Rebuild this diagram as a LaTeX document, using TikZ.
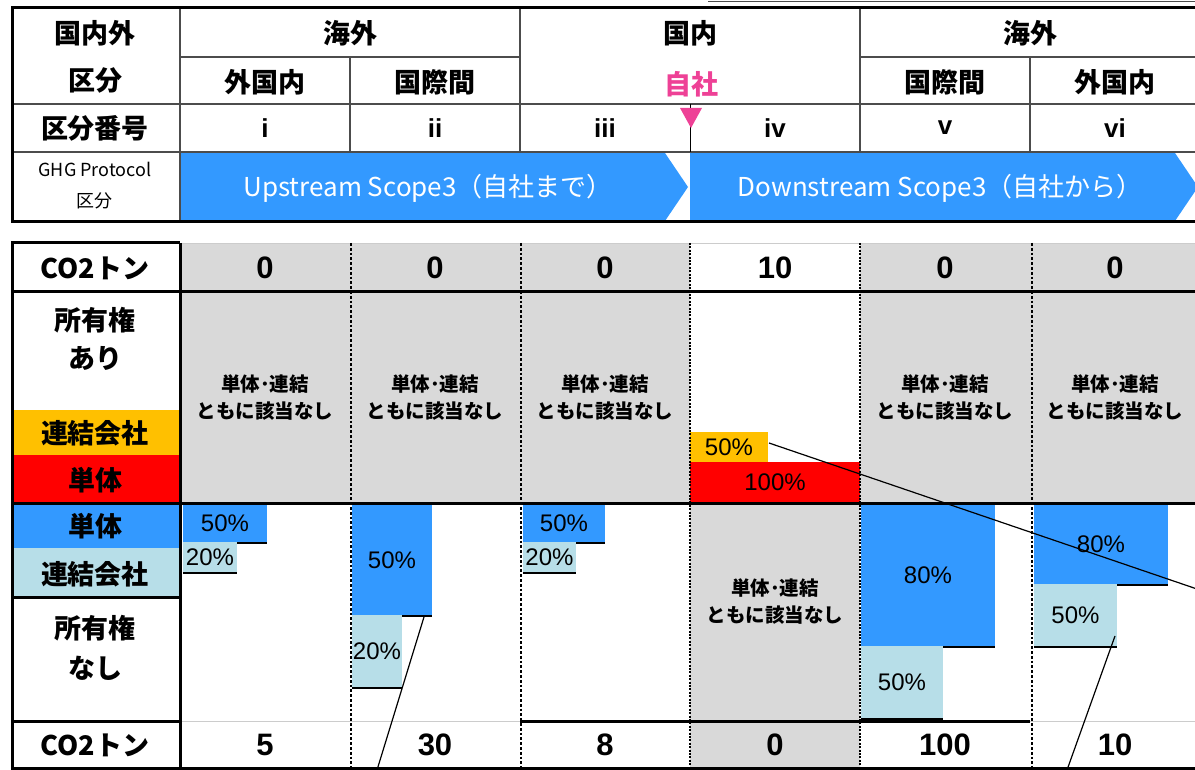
\documentclass[tikz,border=0pt]{standalone}
\usepackage{fontspec}
\setmainfont{Liberation Sans}
\newfontfamily\jp{Noto Sans CJK JP}
\definecolor{sblue}{HTML}{3399FF}
\definecolor{lblue}{HTML}{B7DEE8}
\definecolor{gold}{HTML}{FFC000}
\definecolor{cgray}{HTML}{D9D9D9}
\definecolor{pinkc}{HTML}{EE4196}
\begin{document}
\begin{tikzpicture}[x=1pt,y=-1pt,
  jl/.style={font=\jp\bfseries\fontsize{27}{30}\selectfont, align=center, inner sep=0pt},
  jm/.style={font=\jp\bfseries\fontsize{19.5}{27}\selectfont, align=center, inner sep=0pt},
  num/.style={font=\bfseries\fontsize{31}{34}\selectfont, inner sep=0pt},
  pct/.style={font=\fontsize{24}{26}\selectfont},
  rn/.style={font=\bfseries\fontsize{26}{30}\selectfont, inner sep=0pt},
  atxt/.style={font=\jp\fontsize{26}{28}\selectfont, text=white, inner sep=0pt},
  box/.style={anchor=north west, inner sep=0pt, outer sep=0pt},
  tl/.style={line width=3pt},
  inl/.style={line width=1.2pt, draw=black!70},
  dotA/.style={line width=2.8pt, dash pattern=on 2.8pt off 2pt},
  dotB/.style={line width=1.2pt, dash pattern=on 2pt off 1.4pt},
  conn/.style={line width=1.2pt}]
\useasboundingbox (0,0) rectangle (1195,770);

% ---------------- top table ----------------
\draw[line width=1pt, black!70] (708,2) -- (1195,2);
\fill[sblue] (181,153) -- (665,153) -- (688,187) -- (665,221) -- (181,221) -- cycle;
\fill[sblue] (690,153) -- (1175,153) -- (1198,187) -- (1175,221) -- (690,221) -- cycle;
\node[atxt] (up) at (428,188) {Upstream Scope3（自社まで）};
\node[atxt] (down) at (940,188) {Downstream Scope3（自社から）};

\draw[inl] (180,57) -- (520,57);
\draw[inl] (860,57) -- (1195,57);
\draw[inl] (12,104) -- (1195,104);
\draw[inl] (12,152) -- (1195,152);
\draw[inl] (180,8) -- (180,222);
\draw[inl] (350,57) -- (350,152);
\draw[inl] (520,8) -- (520,152);
\draw[line width=1pt] (690,104) -- (690,152);
\draw[inl] (860,8) -- (860,152);
\draw[inl] (1030,57) -- (1030,152);
\draw[tl] (1195,8) -- (12,8) -- (12,222) -- (1195,222);
\fill[pinkc] (680,108) -- (702,108) -- (691,128) -- cycle;

\node[jl, font=\jp\bfseries\fontsize{27}{47}\selectfont] (h0) at (95,57) {国内外\\区分};
\node[jl] (h1) at (350,33) {海外};
\node[jl] (h2) at (690,33) {国内};
\node[jl] (h3) at (1030,33) {海外};
\node[jl] (h4) at (265,82) {外国内};
\node[jl] (h5) at (435,82) {国際間};
\node[jl, text=pinkc] (h6) at (691,84) {自社};
\node[jl] (h7) at (945,82) {国際間};
\node[jl] (h8) at (1115,82) {外国内};
\node[jl] (h9) at (95,128) {区分番号};
\node[rn] (r1) at (265,128) {i};
\node[rn] (r2) at (435,128) {ii};
\node[rn] (r3) at (605,128) {iii};
\node[rn] (r4) at (775,128) {iv};
\node[rn] (r5) at (945,128) {v};
\node[rn] (r6) at (1115,128) {vi};
\node[jl, font=\jp\fontsize{18}{31}\selectfont] (g0) at (95,186) {GHG Protocol\\区分};

% ---------------- lower table fills ----------------
\fill[cgray] (180,243) rectangle (690,503);
\fill[cgray] (860,243) rectangle (1195,503);
\fill[cgray] (690,503) rectangle (860,768);
\fill[gold] (12,410) rectangle (180,455);
\fill[red] (12,455) rectangle (180,503);
\fill[sblue] (12,503) rectangle (180,548);
\fill[lblue] (12,548) rectangle (180,597);

% upper col iv boxes
\node[box, fill=gold, minimum width=78pt, minimum height=30pt, pct] (y4) at (690,432) {50\%};
\node[box, fill=red, minimum width=170pt, minimum height=41pt, pct] (red4) at (690,462) {100\%};

% lower boxes
\node[box, fill=sblue, minimum width=84pt, minimum height=39pt, pct] (b1) at (183,504) {50\%};
\draw[line width=2.5pt] (b1.south west) -- (b1.south east);
\node[box, fill=lblue, minimum width=54pt, minimum height=31pt, pct] (c1) at (183,542) {20\%};
\draw[line width=2.5pt] (c1.south west) -- (c1.south east);

\node[box, fill=sblue, minimum width=80pt, minimum height=112pt, pct] (b2) at (352,504) {50\%};
\draw[line width=2.5pt] (b2.south west) -- (b2.south east);
\node[box, fill=lblue, minimum width=50pt, minimum height=73pt, pct] (c2) at (352,615) {20\%};
\draw[line width=2.5pt] (c2.south west) -- (c2.south east);

\node[box, fill=sblue, minimum width=82pt, minimum height=39pt, pct] (b3) at (523,504) {50\%};
\draw[line width=2.5pt] (b3.south west) -- (b3.south east);
\node[box, fill=lblue, minimum width=53pt, minimum height=31pt, pct] (c3) at (523,542) {20\%};
\draw[line width=2.5pt] (c3.south west) -- (c3.south east);

\node[box, fill=sblue, minimum width=134pt, minimum height=143pt, pct] (b5) at (861,504) {80\%};
\draw[line width=2.5pt] (b5.south west) -- (b5.south east);
\node[box, fill=lblue, minimum width=82pt, minimum height=73pt, pct] (c5) at (861,646) {50\%};
\draw[line width=2.5pt] (c5.south west) -- (c5.south east);

\node[box, fill=sblue, minimum width=134pt, minimum height=81pt, pct] (b6) at (1034,504) {80\%};
\draw[line width=2.5pt] (b6.south west) -- (b6.south east);
\node[box, fill=lblue, minimum width=83pt, minimum height=63pt, pct] (c6) at (1034,584) {50\%};
\draw[line width=2.5pt] (c6.south west) -- (c6.south east);

% ---------------- lower table lines ----------------
\draw[line width=0.8pt, black!20] (180,243) -- (1195,243);
\draw[line width=0.8pt, black!20] (180,721) -- (520,721);
\draw[line width=0.8pt, black!20] (1030,721) -- (1195,721);
\draw[tl] (180,243) -- (12,243) -- (12,768) -- (1195,768);
\draw[tl] (180,243) -- (180,768);
\draw[tl] (12,292) -- (1195,292);
\draw[tl] (12,503) -- (1195,503);
\draw[tl] (12,597) -- (180,597);
\draw[tl] (12,721) -- (180,721);
\draw[tl] (520,721) -- (1030,721);

\draw[dotA] (351,243) -- (351,768);
\draw[dotA] (521,243) -- (521,768);
\draw[dotA] (1032,243) -- (1032,768);
\draw[dotB] (690,243) -- (690,768);
\draw[dotB] (860,243) -- (860,768);

% ---------------- lower table texts ----------------
\node[jl] (k1) at (95,268) {CO2トン};
\node[jl, font=\jp\bfseries\fontsize{27}{38}\selectfont] (k2) at (95,339) {所有権\\あり};
\node[jl] (k3) at (95,433) {連結会社};
\node[jl] (k4) at (95,480) {単体};
\node[jl] (k5) at (95,526) {単体};
\node[jl] (k6) at (95,574) {連結会社};
\node[jl, font=\jp\bfseries\fontsize{27}{40}\selectfont] (k7) at (95,648) {所有権\\なし};
\node[jl] (k8) at (95,745) {CO2トン};

\node[num] (t1) at (265,268) {0};
\node[num] (t2) at (435,268) {0};
\node[num] (t3) at (605,268) {0};
\node[num] (t4) at (775,268) {10};
\node[num] (t5) at (945,268) {0};
\node[num] (t6) at (1115,268) {0};

\node[num] (u1) at (265,745) {5};
\node[num] (u2) at (435,745) {30};
\node[num] (u3) at (605,745) {8};
\node[num] (u4) at (775,745) {0};
\node[num] (u5) at (945,745) {100};
\node[num] (u6) at (1115,745) {10};

\node[jm] (n1) at (265,398) {単体･連結\\ともに該当なし};
\node[jm] (n2) at (435,398) {単体･連結\\ともに該当なし};
\node[jm] (n3) at (605,398) {単体･連結\\ともに該当なし};
\node[jm] (n5) at (945,398) {単体･連結\\ともに該当なし};
\node[jm] (n6) at (1115,398) {単体･連結\\ともに該当なし};
\node[jm] (n4) at (775,602) {単体･連結\\ともに該当なし};

% ---------------- connectors ----------------
\coordinate (s1) at (769,443);
\coordinate (e1) at (1197,589);
\draw[conn] (s1) -- (e1);
\coordinate (s2) at (424,617);
\coordinate (e2) at (377,770);
\draw[conn] (s2) -- (e2);
\coordinate (s3) at (1115,636);
\coordinate (e3) at (1067,770);
\draw[conn] (s3) -- (e3);
\end{tikzpicture}
\end{document}
